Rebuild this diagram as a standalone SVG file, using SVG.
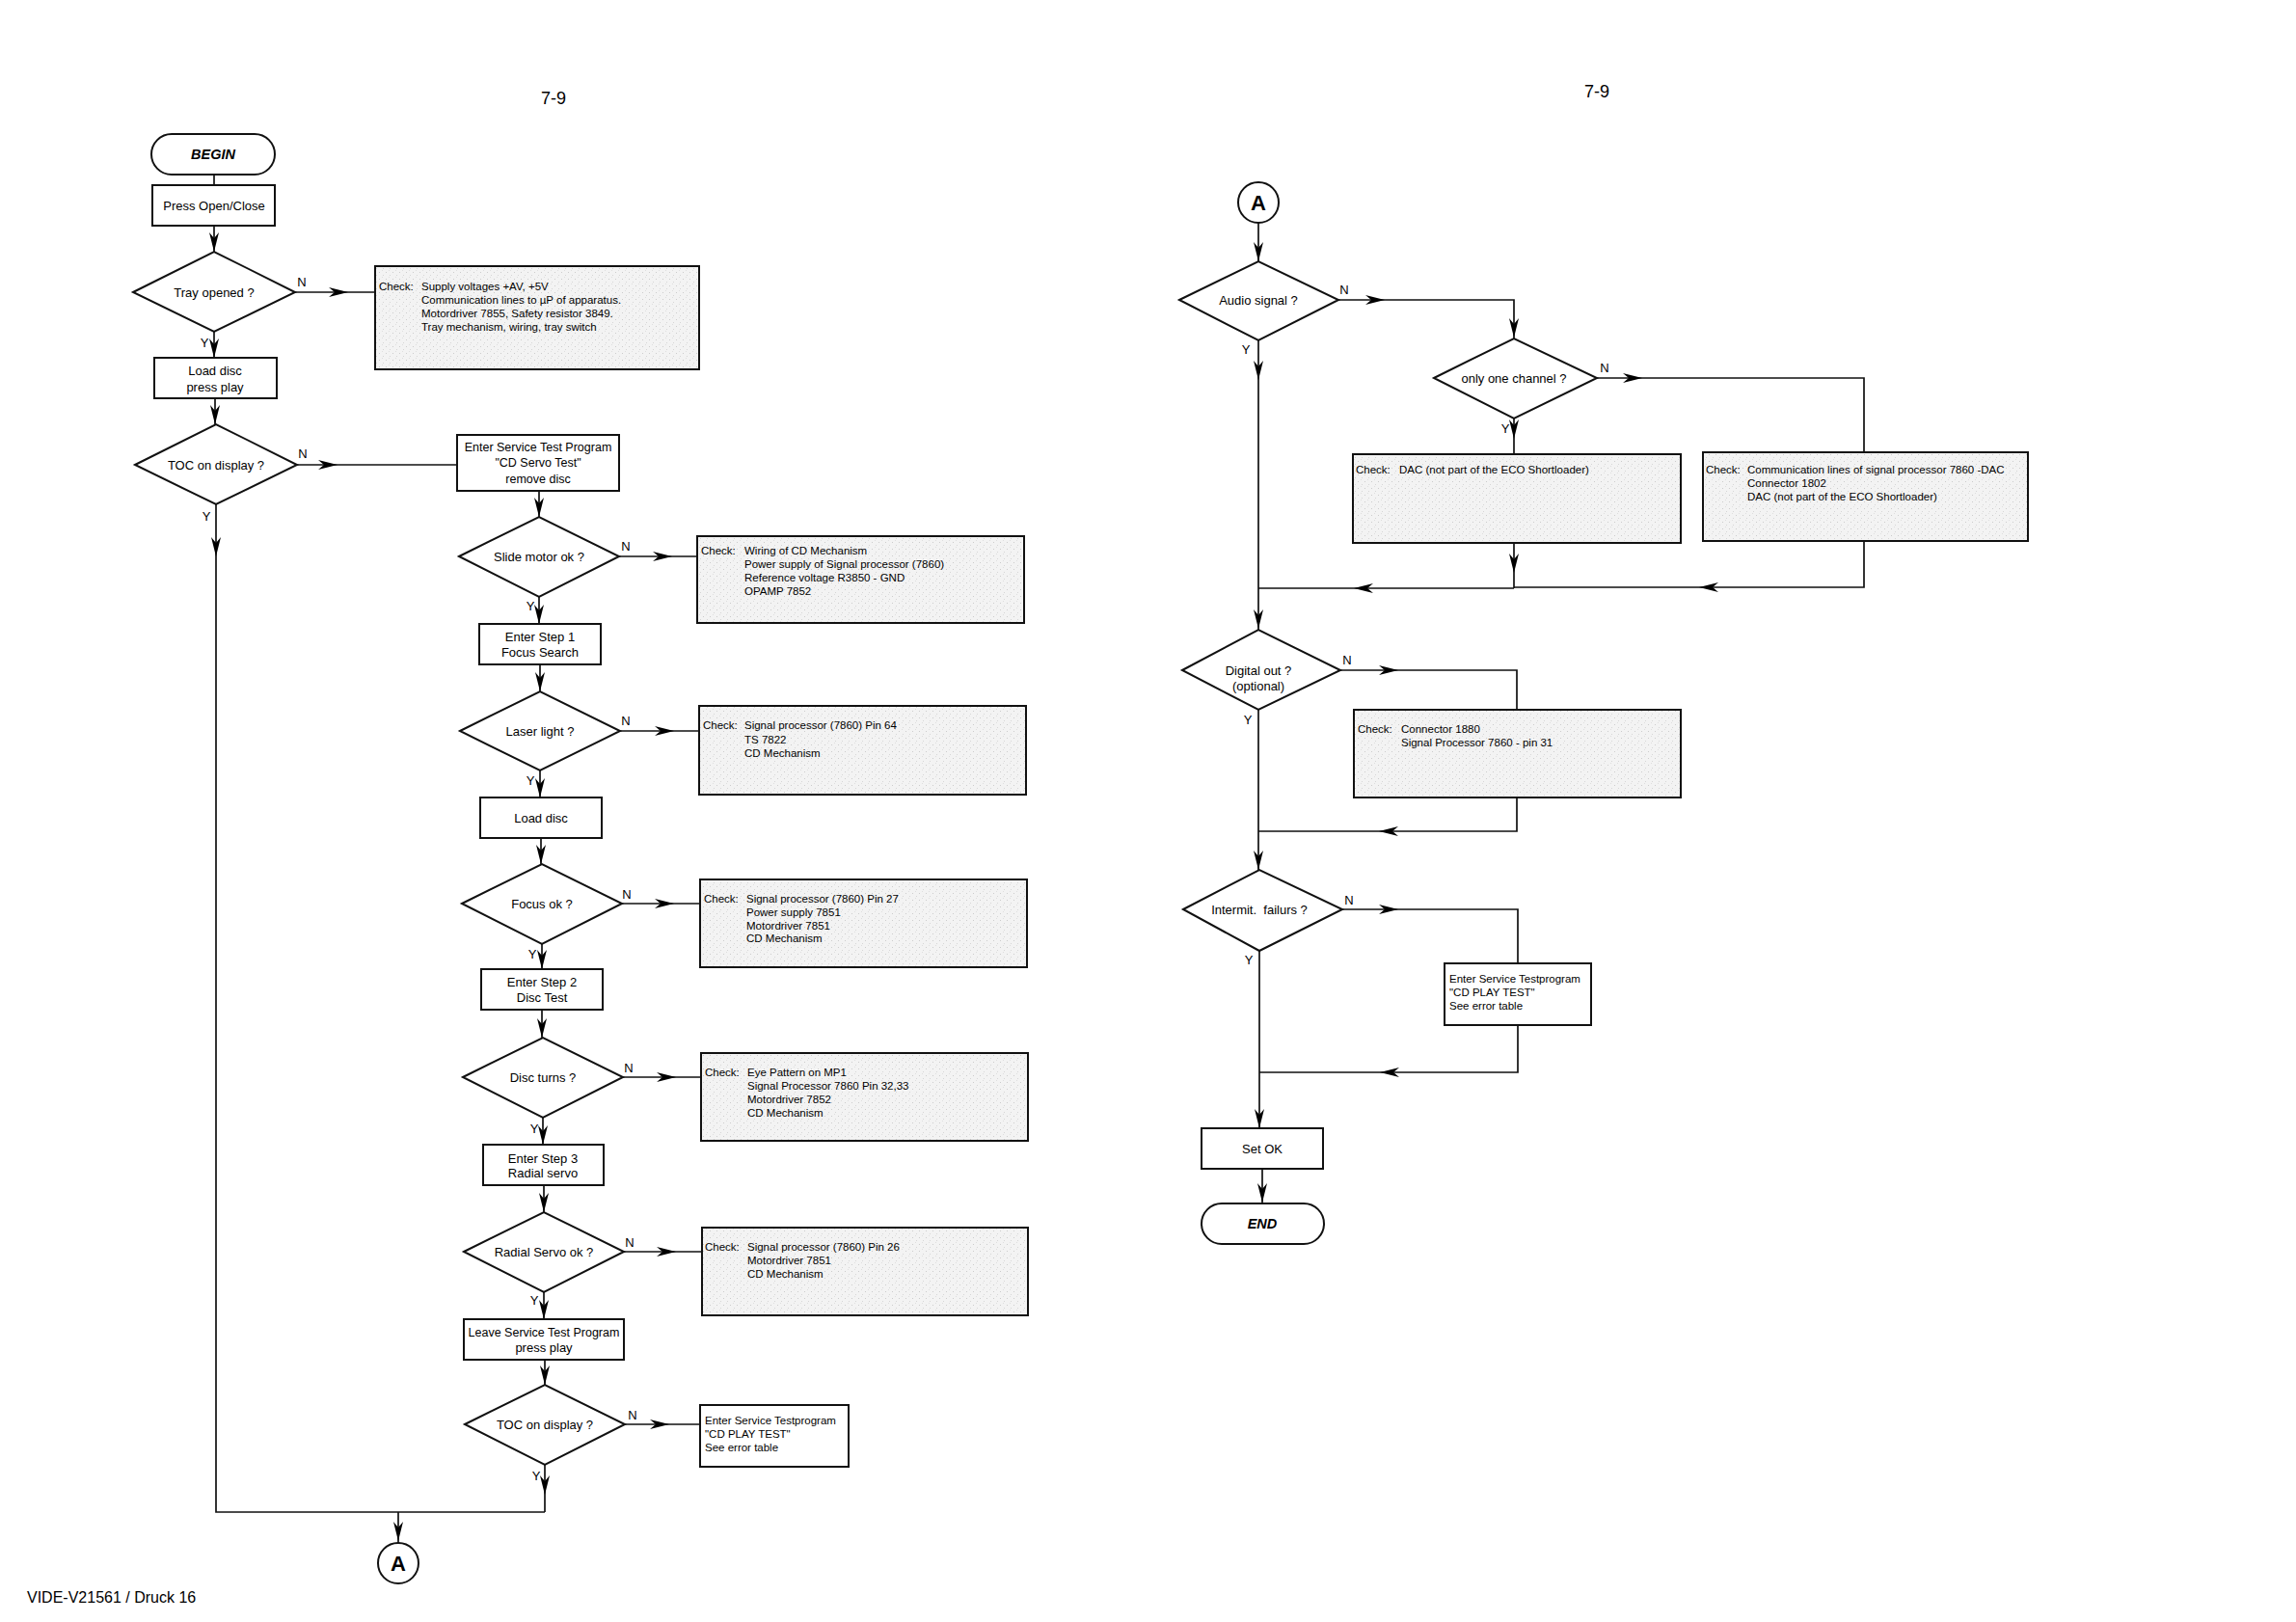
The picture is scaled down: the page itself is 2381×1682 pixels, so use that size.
<svg xmlns="http://www.w3.org/2000/svg" width="2381" height="1682" viewBox="0 0 2381 1682">
<defs>
<pattern id="speck" width="7" height="7" patternUnits="userSpaceOnUse">
<rect width="7" height="7" fill="#f3f3f3"/>
<rect x="1" y="2" width="1" height="1" fill="#cccccc"/>
<rect x="5" y="5" width="1" height="1" fill="#d6d6d6"/>
<rect x="4" y="0" width="1" height="1" fill="#dedede"/>
</pattern>
<path id="ah" d="M0,0 L-20,-5 L-14,0 L-20,5 Z" fill="#000"/>
</defs>
<style>
.bx{fill:#fff;stroke:#111;stroke-width:2}
.ck{fill:url(#speck);stroke:#111;stroke-width:2}
.ln{fill:none;stroke:#111;stroke-width:1.7}
.t{font-family:"Liberation Sans",Arial,sans-serif;font-size:13px;fill:#000;text-anchor:middle;dominant-baseline:central}
.c{font-family:"Liberation Sans",Arial,sans-serif;font-size:11.5px;fill:#000;dominant-baseline:central}
.term{font-weight:bold;font-style:italic;font-size:14.5px}
.pg{font-family:"Liberation Sans",Arial,sans-serif;font-size:18px;fill:#000;text-anchor:middle;dominant-baseline:central}
</style>
<rect width="2381" height="1682" fill="#fff"/>
<text class="pg" x="574" y="102">7-9</text>
<text class="pg" x="1656" y="95">7-9</text>
<text x="28" y="1656" style="font-family:'Liberation Sans',Arial,sans-serif;font-size:16px;fill:#000;dominant-baseline:central">VIDE-V21561 / Druck 16</text>

<g id="connectors">
<path class="ln" d="M222,181 V192"/>
<path class="ln" d="M222,234 V261"/><use href="#ah" transform="translate(222,261) rotate(90)"/>
<path class="ln" d="M306,303 H389"/><use href="#ah" transform="translate(361,303)"/>
<path class="ln" d="M222,344 V371"/><use href="#ah" transform="translate(222,371) rotate(90)"/>
<path class="ln" d="M223,413 V440"/><use href="#ah" transform="translate(223,440) rotate(90)"/>
<path class="ln" d="M308,482 H474"/><use href="#ah" transform="translate(350,482)"/>
<path class="ln" d="M224,523 V1568 H565"/><use href="#ah" transform="translate(224,577) rotate(90)"/>
<path class="ln" d="M559,509 V536"/><use href="#ah" transform="translate(559,536) rotate(90)"/>
<path class="ln" d="M642,577 H723"/><use href="#ah" transform="translate(697,577)"/>
<path class="ln" d="M559,619 V647"/><use href="#ah" transform="translate(559,647) rotate(90)"/>
<path class="ln" d="M560,689 V717"/><use href="#ah" transform="translate(560,717) rotate(90)"/>
<path class="ln" d="M643,758 H725"/><use href="#ah" transform="translate(699,758)"/>
<path class="ln" d="M560,799 V827"/><use href="#ah" transform="translate(560,827) rotate(90)"/>
<path class="ln" d="M561,869 V896"/><use href="#ah" transform="translate(561,896) rotate(90)"/>
<path class="ln" d="M645,937 H726"/><use href="#ah" transform="translate(699,937)"/>
<path class="ln" d="M562,979 V1005"/><use href="#ah" transform="translate(562,1005) rotate(90)"/>
<path class="ln" d="M562,1047 V1076"/><use href="#ah" transform="translate(562,1076) rotate(90)"/>
<path class="ln" d="M646,1117 H727"/><use href="#ah" transform="translate(701,1117)"/>
<path class="ln" d="M563,1159 V1187"/><use href="#ah" transform="translate(563,1187) rotate(90)"/>
<path class="ln" d="M564,1229 V1257"/><use href="#ah" transform="translate(564,1257) rotate(90)"/>
<path class="ln" d="M647,1298 H728"/><use href="#ah" transform="translate(701,1298)"/>
<path class="ln" d="M564,1340 V1368"/><use href="#ah" transform="translate(564,1368) rotate(90)"/>
<path class="ln" d="M565,1410 V1436"/><use href="#ah" transform="translate(565,1436) rotate(90)"/>
<path class="ln" d="M648,1477 H726"/><use href="#ah" transform="translate(694,1477)"/>
<path class="ln" d="M565,1519 V1568"/><use href="#ah" transform="translate(565,1550) rotate(90)"/>
<path class="ln" d="M413,1568 V1600"/><use href="#ah" transform="translate(413,1598) rotate(90)"/>

<path class="ln" d="M1305,231 V271"/><use href="#ah" transform="translate(1305,271) rotate(90)"/>
<path class="ln" d="M1388,311 H1570 V351"/><use href="#ah" transform="translate(1436,311)"/><use href="#ah" transform="translate(1570,350) rotate(90)"/>
<path class="ln" d="M1305,353 V653"/><use href="#ah" transform="translate(1305,394) rotate(90)"/><use href="#ah" transform="translate(1305,652) rotate(90)"/>
<path class="ln" d="M1656,392 H1933 V469"/><use href="#ah" transform="translate(1703,392)"/>
<path class="ln" d="M1570,434 V471"/><use href="#ah" transform="translate(1570,455) rotate(90)"/>
<path class="ln" d="M1570,563 V610"/><use href="#ah" transform="translate(1570,594) rotate(90)"/>
<path class="ln" d="M1933,561 V609 H1570"/><use href="#ah" transform="translate(1762,609) rotate(180)"/>
<path class="ln" d="M1570,610 H1305"/><use href="#ah" transform="translate(1404,610) rotate(180)"/>
<path class="ln" d="M1390,695 H1573 V736"/><use href="#ah" transform="translate(1450,695)"/>
<path class="ln" d="M1573,827 V862 H1305"/><use href="#ah" transform="translate(1430,862) rotate(180)"/>
<path class="ln" d="M1305,736 V902"/><use href="#ah" transform="translate(1305,902) rotate(90)"/>
<path class="ln" d="M1392,943 H1574 V999"/><use href="#ah" transform="translate(1450,943)"/>
<path class="ln" d="M1574,1063 V1112 H1306"/><use href="#ah" transform="translate(1431,1112) rotate(180)"/>
<path class="ln" d="M1306,986 V1170"/><use href="#ah" transform="translate(1306,1170) rotate(90)"/>
<path class="ln" d="M1309,1212 V1248"/><use href="#ah" transform="translate(1309,1247) rotate(90)"/>
</g>

<g id="labels">
<text class="t" x="313" y="292">N</text><text class="t" x="212" y="355">Y</text>
<text class="t" x="314" y="470">N</text><text class="t" x="214" y="535">Y</text>
<text class="t" x="649" y="566">N</text><text class="t" x="550" y="628">Y</text>
<text class="t" x="649" y="747">N</text><text class="t" x="550" y="809">Y</text>
<text class="t" x="650" y="927">N</text><text class="t" x="552" y="989">Y</text>
<text class="t" x="652" y="1107">N</text><text class="t" x="554" y="1170">Y</text>
<text class="t" x="653" y="1288">N</text><text class="t" x="554" y="1348">Y</text>
<text class="t" x="656" y="1467">N</text><text class="t" x="556" y="1530">Y</text>
<text class="t" x="1394" y="300">N</text><text class="t" x="1292" y="362">Y</text>
<text class="t" x="1664" y="381">N</text><text class="t" x="1561" y="444">Y</text>
<text class="t" x="1397" y="684">N</text><text class="t" x="1294" y="746">Y</text>
<text class="t" x="1399" y="933">N</text><text class="t" x="1295" y="995">Y</text>
</g>

<g id="begin"><rect class="bx" x="157" y="139" width="128" height="42" rx="21"/><text class="t term" x="221" y="160">BEGIN</text></g>
<g id="press-open-close"><rect class="bx" x="158" y="192" width="127" height="42"/><text class="t" x="222" y="213">Press Open/Close</text></g>
<g id="tray-opened"><polygon class="bx" points="138,303 222,261 306,303 222,344"/><text class="t" x="222" y="303">Tray opened ?</text></g>
<g id="check-tray"><rect class="ck" x="389" y="276" width="336" height="107"/>
<text class="c" x="393" y="297">Check:</text>
<text class="c" x="437" y="297">Supply voltages +AV, +5V</text>
<text class="c" x="437" y="311">Communication lines to µP of apparatus.</text>
<text class="c" x="437" y="325">Motordriver 7855, Safety resistor 3849.</text>
<text class="c" x="437" y="339">Tray mechanism, wiring, tray switch</text></g>
<g id="load-disc-play"><rect class="bx" x="160" y="371" width="127" height="42"/><text class="t" x="223" y="384">Load disc</text><text class="t" x="223" y="401">press play</text></g>
<g id="toc-display-1"><polygon class="bx" points="140,482 224,440 308,482 224,523"/><text class="t" x="224" y="482">TOC on display ?</text></g>
<g id="enter-service"><rect class="bx" x="474" y="451" width="168" height="58"/>
<text class="t" x="558" y="464" style="font-size:12.5px">Enter Service Test Program</text>
<text class="t" x="558" y="480" style="font-size:12.5px">"CD Servo Test"</text>
<text class="t" x="558" y="497" style="font-size:12.5px">remove disc</text></g>
<g id="slide-motor"><polygon class="bx" points="476,577 559,536 642,577 559,619"/><text class="t" x="559" y="577">Slide motor ok ?</text></g>
<g id="check-slide"><rect class="ck" x="723" y="556" width="339" height="90"/>
<text class="c" x="727" y="571">Check:</text>
<text class="c" x="772" y="571">Wiring of CD Mechanism</text>
<text class="c" x="772" y="585">Power supply of Signal processor (7860)</text>
<text class="c" x="772" y="599">Reference voltage R3850 - GND</text>
<text class="c" x="772" y="613">OPAMP 7852</text></g>
<g id="step1"><rect class="bx" x="497" y="647" width="126" height="42"/><text class="t" x="560" y="660">Enter Step 1</text><text class="t" x="560" y="676">Focus Search</text></g>
<g id="laser-light"><polygon class="bx" points="477,758 560,717 643,758 560,799"/><text class="t" x="560" y="758">Laser light ?</text></g>
<g id="check-laser"><rect class="ck" x="725" y="732" width="339" height="92"/>
<text class="c" x="729" y="752">Check:</text>
<text class="c" x="772" y="752">Signal processor (7860) Pin 64</text>
<text class="c" x="772" y="767">TS 7822</text>
<text class="c" x="772" y="781">CD Mechanism</text></g>
<g id="load-disc"><rect class="bx" x="498" y="827" width="126" height="42"/><text class="t" x="561" y="848">Load disc</text></g>
<g id="focus-ok"><polygon class="bx" points="479,937 562,896 645,937 562,979"/><text class="t" x="562" y="937">Focus ok ?</text></g>
<g id="check-focus"><rect class="ck" x="726" y="912" width="339" height="91"/>
<text class="c" x="730" y="932">Check:</text>
<text class="c" x="774" y="932">Signal processor (7860) Pin 27</text>
<text class="c" x="774" y="946">Power supply 7851</text>
<text class="c" x="774" y="960">Motordriver 7851</text>
<text class="c" x="774" y="973">CD Mechanism</text></g>
<g id="step2"><rect class="bx" x="499" y="1005" width="126" height="42"/><text class="t" x="562" y="1018">Enter Step 2</text><text class="t" x="562" y="1034">Disc Test</text></g>
<g id="disc-turns"><polygon class="bx" points="480,1117 563,1076 646,1117 563,1159"/><text class="t" x="563" y="1117">Disc turns ?</text></g>
<g id="check-disc"><rect class="ck" x="727" y="1092" width="339" height="91"/>
<text class="c" x="731" y="1112">Check:</text>
<text class="c" x="775" y="1112">Eye Pattern on MP1</text>
<text class="c" x="775" y="1126">Signal Processor 7860 Pin 32,33</text>
<text class="c" x="775" y="1140">Motordriver 7852</text>
<text class="c" x="775" y="1154">CD Mechanism</text></g>
<g id="step3"><rect class="bx" x="501" y="1187" width="125" height="42"/><text class="t" x="563" y="1201">Enter Step 3</text><text class="t" x="563" y="1216">Radial servo</text></g>
<g id="radial-servo"><polygon class="bx" points="481,1298 564,1257 647,1298 564,1340"/><text class="t" x="564" y="1298">Radial Servo ok ?</text></g>
<g id="check-radial"><rect class="ck" x="728" y="1273" width="338" height="91"/>
<text class="c" x="731" y="1293">Check:</text>
<text class="c" x="775" y="1293">Signal processor (7860) Pin 26</text>
<text class="c" x="775" y="1307">Motordriver 7851</text>
<text class="c" x="775" y="1321">CD Mechanism</text></g>
<g id="leave-service"><rect class="bx" x="481" y="1368" width="166" height="42"/><text class="t" x="564" y="1382" style="font-size:12.5px">Leave Service Test Program</text><text class="t" x="564" y="1397">press play</text></g>
<g id="toc-display-2"><polygon class="bx" points="482,1477 565,1436 648,1477 565,1519"/><text class="t" x="565" y="1477">TOC on display ?</text></g>
<g id="cd-play-test-1"><rect class="bx" x="726" y="1457" width="154" height="64"/>
<text class="c" x="731" y="1473">Enter Service Testprogram</text>
<text class="c" x="731" y="1487">"CD PLAY TEST"</text>
<text class="c" x="731" y="1501">See error table</text></g>
<g id="connector-a-out"><circle class="bx" cx="413" cy="1621" r="21"/><text class="t" x="413" y="1621" style="font-weight:bold;font-size:22px">A</text></g>

<g id="connector-a-in"><circle class="bx" cx="1305" cy="210" r="21"/><text class="t" x="1305" y="210" style="font-weight:bold;font-size:22px">A</text></g>
<g id="audio-signal"><polygon class="bx" points="1223,311 1305,271 1388,311 1305,353"/><text class="t" x="1305" y="311">Audio signal ?</text></g>
<g id="only-one-channel"><polygon class="bx" points="1487,392 1570,351 1656,392 1570,434"/><text class="t" x="1570" y="392">only one channel ?</text></g>
<g id="check-dac"><rect class="ck" x="1403" y="471" width="340" height="92"/>
<text class="c" x="1406" y="487">Check:</text>
<text class="c" x="1451" y="487">DAC (not part of the ECO Shortloader)</text></g>
<g id="check-comm"><rect class="ck" x="1766" y="469" width="337" height="92"/>
<text class="c" x="1769" y="487">Check:</text>
<text class="c" x="1812" y="487">Communication lines of signal processor 7860 -DAC</text>
<text class="c" x="1812" y="501">Connector 1802</text>
<text class="c" x="1812" y="515">DAC (not part of the ECO Shortloader)</text></g>
<g id="digital-out"><polygon class="bx" points="1226,695 1305,653 1390,695 1305,736"/><text class="t" x="1305" y="695">Digital out ?</text><text class="t" x="1305" y="711">(optional)</text></g>
<g id="check-connector"><rect class="ck" x="1404" y="736" width="339" height="91"/>
<text class="c" x="1408" y="756">Check:</text>
<text class="c" x="1453" y="756">Connector 1880</text>
<text class="c" x="1453" y="770">Signal Processor 7860 - pin 31</text></g>
<g id="intermit-failurs"><polygon class="bx" points="1227,943 1306,902 1392,943 1306,986"/><text class="t" x="1306" y="943" xml:space="preserve">Intermit.  failurs ?</text></g>
<g id="cd-play-test-2"><rect class="bx" x="1498" y="999" width="152" height="64"/>
<text class="c" x="1503" y="1015">Enter Service Testprogram</text>
<text class="c" x="1503" y="1029">"CD PLAY TEST"</text>
<text class="c" x="1503" y="1043">See error table</text></g>
<g id="set-ok"><rect class="bx" x="1246" y="1170" width="126" height="42"/><text class="t" x="1309" y="1191">Set OK</text></g>
<g id="end"><rect class="bx" x="1246" y="1248" width="127" height="42" rx="21"/><text class="t term" x="1309" y="1269">END</text></g>
</svg>
